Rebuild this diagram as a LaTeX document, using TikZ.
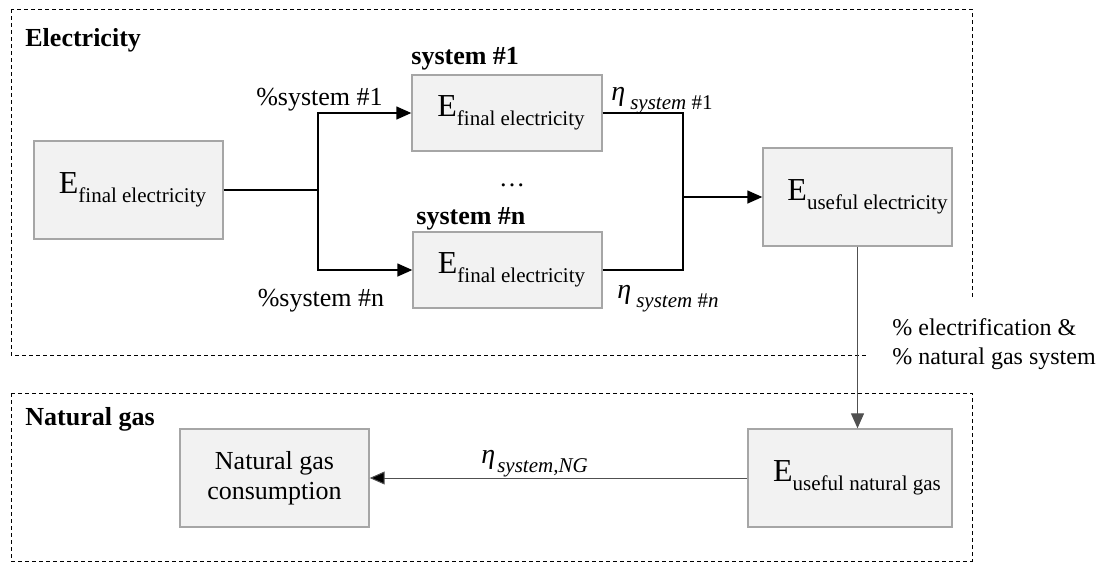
\documentclass[tikz,border=0pt]{standalone}
\usepackage{fontspec}
\setmainfont{Liberation Serif}
\usetikzlibrary{arrows.meta}

\definecolor{boxfill}{HTML}{F2F2F2}
\definecolor{boxline}{HTML}{A6A6A6}
\definecolor{ngline}{HTML}{505050}

% energy symbol with a lowered subscript
\newcommand\Eterm[1]{{\fontsize{16}{18}\selectfont E}\raisebox{-4.5pt}{\fontsize{10.5}{12}\selectfont #1}}
% efficiency symbol with a lowered subscript
\newcommand\effterm[1]{{\fontsize{14}{16}\selectfont\itshape η}\raisebox{-4.5pt}{\fontsize{10.5}{12}\selectfont #1}}

\tikzset{
  x=0.5pt, y=-0.5pt,
  stage/.style={draw=boxline, line width=0.7pt, fill=boxfill, inner sep=0pt,
                font=\fontsize{13}{15}\selectfont, align=center},
  groupbox/.style={draw=black, line width=0.5pt, dash pattern=on 2pt off 1.5pt},
  heading/.style={font=\fontsize{13}{15}\selectfont\bfseries, anchor=base west, inner sep=0pt},
  lbl/.style={font=\fontsize{13}{15}\selectfont, inner sep=0pt},
  flow/.style={line width=0.7pt, -{Triangle[length=7.5pt,width=6.5pt]}},
  link/.style={line width=0.7pt},
  flowng/.style={draw=ngline, line width=0.5pt, -{Triangle[length=7.5pt,width=6.5pt,fill=black]}},
}

\begin{document}
\begin{tikzpicture}
\useasboundingbox (0,0) rectangle (1101,563);

% dashed groups
\draw[groupbox] (11,9) rectangle (972,355);
\draw[groupbox] (11,393) rectangle (972,561);
\node[heading] (hel) at (25,46) {Electricity};
\node[heading] (hng) at (25,425) {Natural gas};

% electricity stages
\node[stage, minimum width=94.5pt, minimum height=49pt] (ef) at (128.5,190)
  {\hspace*{4pt}\Eterm{final electricity}};
\node[stage, minimum width=95pt, minimum height=38pt] (s1) at (507,113)
  {\hspace*{4pt}\Eterm{final electricity}};
\node[stage, minimum width=94.5pt, minimum height=38pt] (sn) at (507.5,270)
  {\hspace*{4pt}\Eterm{final electricity}};
\node[stage, minimum width=94.5pt, minimum height=49pt] (ue) at (857.5,197)
  {\hspace*{10pt}\Eterm{useful electricity}};

\node[heading] (t1) at (411,64) {system \#1};
\node[heading] (tn) at (416,224) {system \#n};
\node[lbl, anchor=base] (dots) at (512,186) {…};

% split to the systems
\coordinate (split) at (318,190);
\draw[link] (ef.east) -- (split);
\draw[flow] (split) |- (s1.west);
\draw[flow] (split) |- (sn.west);
\node[lbl, anchor=base] (p1) at (319.5,105) {\%system \#1};
\node[lbl, anchor=base] (pn) at (321,306) {\%system \#n};

% join of the systems
\coordinate (join) at (683,197);
\draw[link] (s1.east) -| (join);
\draw[link] (sn.east) -| (join);
\draw[flow] (join) -- (ue.west);
\node[lbl, anchor=base west] (e1) at (611,100)
  {\effterm{\hspace{2.5pt}\textit{system} \#1}};
\node[lbl, anchor=base west] (en) at (617,298)
  {\effterm{\hspace{2.5pt}\textit{system} \#\textit{n}}};

% natural gas stages
\node[stage, minimum width=94.5pt, minimum height=49pt] (cons) at (274.5,478)
  {Natural gas\\consumption};
\node[stage, minimum width=102pt, minimum height=49pt] (ung) at (850,478)
  {\hspace*{7pt}\Eterm{useful natural gas}};

% transfer between groups
\path[fill=white] (866,297) rectangle (1101,388);
\draw[flow, draw=ngline, line width=0.6pt] (ue.south) -- (ue.south |- ung.north);
\node[font=\fontsize{12}{14.5}\selectfont, anchor=base west, align=left, inner sep=0pt] (share) at (892,364)
  {\% electrification \&\\\% natural gas system};

% natural gas flow
\draw[flowng] (ung.west) -- (cons.east);
\node[lbl, anchor=base west] (eng) at (481,463)
  {\effterm{\hspace{1pt}\textit{system,NG}}};

\end{tikzpicture}
\end{document}
